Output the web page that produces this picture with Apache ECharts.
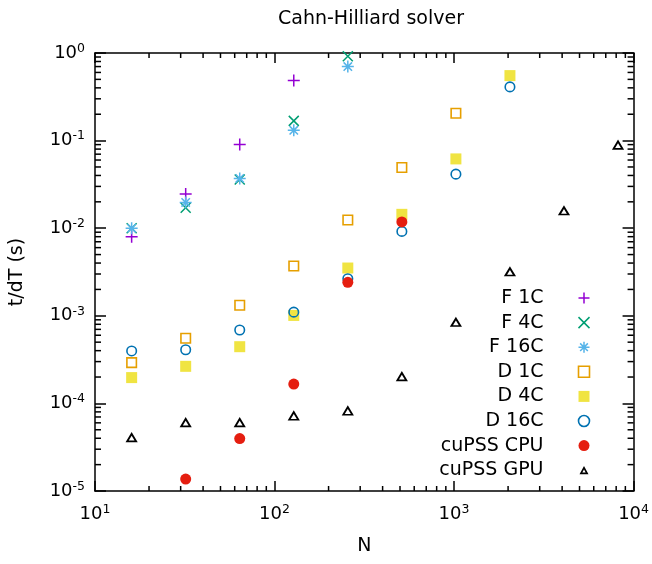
<!DOCTYPE html>
<html><head><meta charset="utf-8">
<script src="https://cdn.jsdelivr.net/npm/echarts@6/dist/echarts.min.js"></script>
<style>html,body{margin:0;padding:0;background:#fff}#c{width:652px;height:564px}</style>
</head><body><div id="c"></div>
<script>
// ---- data ----
const N = [16, 32, 64, 128, 256, 512, 1024, 2048, 4096, 8192];
const F1C  = [0.0080, 0.0245, 0.090, 0.485];
const F4C  = [0.0100, 0.0171, 0.036, 0.168, 0.92];
const F16C = [0.0100, 0.0197, 0.037, 0.131, 0.70];
const D1C  = [2.92e-4, 5.54e-4, 1.32e-3, 3.70e-3, 0.0124, 0.0493, 0.205];
const D4C  = [1.97e-4, 2.65e-4, 4.44e-4, 1.01e-3, 3.51e-3, 0.0144, 0.0618, 0.552];
const D16C = [3.97e-4, 4.10e-4, 6.89e-4, 1.10e-3, 2.65e-3, 9.19e-3, 0.0414, 0.41];
const CPU_N = [32, 64, 128, 256, 512];
const CPU  = [1.37e-5, 3.97e-5, 1.66e-4, 2.41e-3, 0.0118];
const GPU  = [4.07e-5, 6.04e-5, 6.04e-5, 7.19e-5, 8.2e-5, 2.02e-4, 8.43e-4, 3.18e-3, 0.0158, 0.0887];
const X_MIN = 10, X_MAX = 10000, Y_MIN = 1e-5, Y_MAX = 1;
const X_TICK_EXP = ['1', '2', '3', '4'];
const Y_TICK_EXP = ['-5', '-4', '-3', '-2', '-1', '0'];
const NAMES = ['F 1C', 'F 4C', 'F 16C', 'D 1C', 'D 4C', 'D 16C', 'cuPSS CPU', 'cuPSS GPU'];

const FONT = 'DejaVu Sans';
const zip = (xs, ys) => ys.map((y, i) => [xs[i], y]);
function minorVals(lo, hi) {
  const out = [];
  for (let d = lo; d < hi * 0.999; d *= 10) for (let k = 2; k <= 9; k++) out.push(d * k);
  return out;
}
const X_MINOR = minorVals(X_MIN, X_MAX);
const Y_MINOR = minorVals(Y_MIN, Y_MAX);

const rich = {
  b: { fontSize: 18, fontFamily: FONT, color: '#000', lineHeight: 22 },
  s: { fontSize: 12.5, fontFamily: FONT, color: '#000', lineHeight: 13, verticalAlign: 'top' }
};
function fmt(list, offset) {
  return v => {
    const e = Math.round(Math.log10(v));
    return '{b|10}{s|' + list[e - offset] + '}';
  };
}
const lineS = { color: '#000', width: 1.5 };

const xBase = {
  type: 'log', logBase: 10, min: X_MIN, max: X_MAX,
  axisLine: { show: true, lineStyle: lineS },
  axisTick: { show: true, inside: true, length: 10, lineStyle: lineS },
  splitLine: { show: false }, minorTick: { show: false }
};
const yBase = {
  type: 'log', logBase: 10, min: Y_MIN, max: Y_MAX,
  axisLine: { show: true, lineStyle: lineS },
  axisTick: { show: true, inside: true, length: 11, lineStyle: lineS },
  splitLine: { show: false }, minorTick: { show: false }
};

const PLUS = 'path://M5,0L5,10M0,5L10,5';
const CROSS = 'path://M0,0L10,10M10,0L0,10';
const STAR = 'path://M5,0L5,10M0,5L10,5M1.5,1.5L8.5,8.5M8.5,1.5L1.5,8.5';
const TRI = 'path://M4.5,0L9,7.5L0,7.5Z';
// legend triangle as a filled ring (outer minus inner), drawn without stroke
const TRI_LEG = 'path://M0,0M11,11M5.5,1.3L10,9.6L1,9.6ZM5.5,4.86L3.85,7.9L7.15,7.9Z';

function sc(name, data, symbol, size, color, border, bw) {
  return {
    name, type: 'scatter', data, symbol, symbolSize: size,
    itemStyle: { color: color, borderColor: border, borderWidth: bw, opacity: 1 },
    emphasis: { disabled: true }, z: 3
  };
}

function tickSeries(vals, isX) {
  return {
    type: 'custom', coordinateSystem: 'cartesian2d', silent: true, clip: false, z: 4,
    data: vals.map(v => isX ? [v, Y_MIN] : [X_MIN, v]),
    renderItem: (params, api) => {
      const style = { stroke: '#000', lineWidth: 1.5 };
      if (isX) {
        const v = api.value(0);
        const b = api.coord([v, Y_MIN]), t = api.coord([v, Y_MAX]);
        return { type: 'group', children: [
          { type: 'line', shape: { x1: b[0], y1: b[1], x2: b[0], y2: b[1] - 5 }, style },
          { type: 'line', shape: { x1: t[0], y1: t[1], x2: t[0], y2: t[1] + 5 }, style }
        ]};
      } else {
        const v = api.value(1);
        const l = api.coord([X_MIN, v]), r = api.coord([X_MAX, v]);
        return { type: 'group', children: [
          { type: 'line', shape: { x1: l[0], y1: l[1], x2: l[0] + 6, y2: l[1] }, style },
          { type: 'line', shape: { x1: r[0], y1: r[1], x2: r[0] - 6, y2: r[1] }, style }
        ]};
      }
    }
  };
}

const chart = echarts.init(document.getElementById('c'), null, { renderer: 'canvas' });
chart.setOption({
  backgroundColor: '#fff',
  animation: false,
  title: {
    text: 'Cahn-Hilliard solver', left: 366, top: 5, textAlign: 'center',
    textStyle: { fontFamily: FONT, fontSize: 19, fontWeight: 'normal', color: '#000' }
  },
  grid: { left: 94, right: 14, top: 53, bottom: 73, containLabel: false },
  xAxis: [
    Object.assign({}, xBase, {
      position: 'bottom',
      axisLabel: { show: true, margin: 12, formatter: fmt(X_TICK_EXP, 1), rich, showMinLabel: true, showMaxLabel: true },
      name: 'N', nameLocation: 'middle', nameGap: 46,
      nameTextStyle: { fontFamily: FONT, fontSize: 19, color: '#000' }
    }),
    Object.assign({}, xBase, { position: 'top', axisLabel: { show: false } })
  ],
  yAxis: [
    Object.assign({}, yBase, {
      position: 'left',
      axisLabel: { show: true, margin: 10, formatter: fmt(Y_TICK_EXP, -5), rich, showMinLabel: true, showMaxLabel: true },
      name: 't/dT (s)', nameLocation: 'middle', nameGap: 68,
      nameTextStyle: { fontFamily: FONT, fontSize: 19, color: '#000' }
    }),
    Object.assign({}, yBase, { position: 'right', axisLabel: { show: false } })
  ],
  legend: {
    orient: 'vertical', align: 'right', right: 60, top: 288, padding: 0,
    itemWidth: 11, itemHeight: 11, itemGap: 4.6, selectedMode: false,
    textStyle: { fontFamily: FONT, fontSize: 19, color: '#000', lineHeight: 20, padding: [0, 30, 0, 0] },
    itemStyle: { borderWidth: 'inherit' },
    data: NAMES.map((n, i) => i === 7
      ? { name: n, icon: TRI_LEG, itemStyle: { color: '#000', borderColor: 'rgba(0,0,0,0)', borderWidth: 0 } }
      : { name: n })
  },
  series: [
    sc('F 1C', zip(N, F1C), PLUS, 12, 'none', '#9400d3', 1.5),
    sc('F 4C', zip(N, F4C), CROSS, 10, 'none', '#009e73', 1.5),
    sc('F 16C', zip(N, F16C), STAR, 12, 'none', '#56b4e9', 1.5),
    sc('D 1C', zip(N, D1C), 'rect', 9.5, 'none', '#e69f00', 1.6),
    sc('D 4C', zip(N, D4C), 'rect', 11, '#f0e442', '#f0e442', 0),
    sc('D 16C', zip(N, D16C), 'circle', 9.5, 'none', '#0072b2', 1.6),
    sc('cuPSS CPU', zip(CPU_N, CPU), 'circle', 11, '#e51e10', '#e51e10', 0),
    sc('cuPSS GPU', zip(N, GPU), TRI, [9, 7.5], '#ffffff', '#000', 1.8),
    tickSeries(X_MINOR, true),
    tickSeries(Y_MINOR, false)
  ]
});
</script></body></html>
